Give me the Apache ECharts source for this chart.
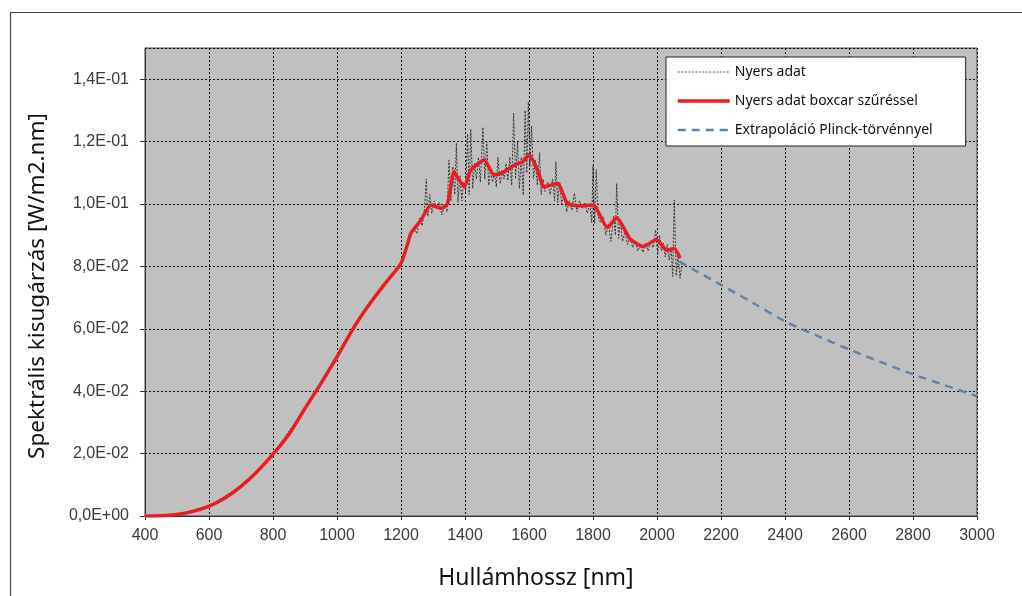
<!DOCTYPE html>
<html>
<head>
<meta charset="utf-8">
<script src="https://cdn.jsdelivr.net/npm/echarts@6/dist/echarts.min.js"></script>
<style>html,body{margin:0;padding:0;background:#fff;}#c{width:1022px;height:596px;}</style>
</head>
<body>
<div id="c"></div>
<script>
// Smoothed (boxcar) curve
const smoothX = [400,450,500,550,600,650,700,750,800,850,900,950,1000,1050,1100,1150,1200,1220,1231,1262,1294,1325,1345,1366,1380,1398,1418,1460,1491,1523,1554,1580,1600,1627,1647,1689,1720,1762,1800,1845,1874,1916,1957,1999,2030,2054,2072];
const smoothY = [0,0.0001,0.0005,0.0015,0.0032,0.0058,0.0095,0.0142,0.0198,0.0262,0.0345,0.0425,0.0510,0.0600,0.0677,0.0745,0.0810,0.0870,0.0906,0.0948,0.0997,0.0986,0.1000,0.1103,0.1080,0.1055,0.1109,0.1141,0.1093,0.1103,0.1125,0.1135,0.1157,0.1109,0.1055,0.1066,0.1002,0.0994,0.0997,0.0925,0.0956,0.0888,0.0864,0.0886,0.0852,0.0857,0.0826];

// Raw data (noisy part; below 1230 nm it lies under the smoothed curve)
const rawX = [400,500,600,700,800,900,1000,1100,1200,1220,1230,1240,1250,1258,1266,1274,1279,1284,1290,1296,1304,1312,1320,1328,1336,1344,1350,1356,1362,1368,1373,1378,1384,1390,1396,1402,1408,1413,1418,1424,1430,1436,1442,1448,1456,1462,1468,1474,1480,1486,1492,1498,1503,1510,1516,1522,1528,1534,1540,1546,1552,1558,1564,1570,1576,1582,1588,1593,1598,1603,1608,1614,1620,1626,1633,1638,1644,1650,1658,1666,1674,1680,1684,1690,1696,1702,1710,1718,1726,1734,1742,1750,1758,1766,1774,1782,1790,1796,1800,1805,1810,1816,1824,1832,1840,1848,1856,1864,1870,1874,1880,1886,1892,1900,1908,1916,1924,1932,1940,1948,1956,1964,1972,1980,1988,1996,2002,2008,2014,2020,2026,2032,2038,2044,2049,2054,2060,2066,2072,2078];
const rawY = [0,0.0005,0.0032,0.0095,0.0198,0.0345,0.0512,0.0677,0.0810,0.0870,0.0900,0.0925,0.0905,0.0955,0.0930,0.0990,0.1080,0.0960,0.1030,0.0970,0.1010,0.0985,0.1005,0.0965,0.1000,0.0975,0.1140,0.1010,0.1120,0.1030,0.1195,0.1005,0.1090,0.1010,0.1070,0.1040,0.1225,0.1030,0.1240,0.1050,0.1130,0.1080,0.1150,0.1070,0.1246,0.1080,0.1200,0.1060,0.1110,0.1070,0.1100,0.1055,0.1150,0.1065,0.1110,0.1080,0.1130,0.1075,0.1150,0.1060,0.1290,0.1080,0.1200,0.1050,0.1150,0.1029,0.1300,0.1100,0.1327,0.1120,0.1250,0.1080,0.1140,0.1060,0.1165,0.1030,0.1080,0.1040,0.1070,0.1030,0.1080,0.1010,0.1135,0.1005,0.1070,0.1000,0.1030,0.0975,0.1010,0.0980,0.1035,0.0975,0.1010,0.0985,0.1005,0.0970,0.1000,0.0940,0.1124,0.0938,0.1110,0.0960,0.0940,0.0960,0.0900,0.0935,0.0880,0.0960,0.0900,0.1066,0.0890,0.0950,0.0880,0.0910,0.0870,0.0895,0.0860,0.0880,0.0850,0.0870,0.0845,0.0875,0.0850,0.0880,0.0860,0.0917,0.0837,0.0900,0.0850,0.0875,0.0830,0.0870,0.0820,0.0860,0.0768,0.1013,0.0770,0.0840,0.0762,0.0810];

// Planck extrapolation
const extraX = [2070,2100,2200,2300,2400,2500,2600,2700,2800,2900,3000];
const extraY = [0.0816,0.0798,0.0741,0.0683,0.0624,0.0578,0.0534,0.0493,0.0454,0.0419,0.0384];

const seriesNames = ['Nyers adat','Nyers adat boxcar szűréssel','Extrapoláció Plinck-törvénnyel'];
const xTitle = 'Hullámhossz [nm]';
const yTitle = 'Spektrális kisugárzás [W/m2.nm]';

const pairs = (xs, ys) => xs.map((x, i) => [x, ys[i]]);

function fmtY(v) {
  if (Math.abs(v) < 1e-12) return '0,0E+00';
  const s = v.toExponential(1); // e.g. 1.4e-1
  const [m, e] = s.split('e');
  const sign = e[0] === '-' ? '-' : '+';
  const n = Math.abs(parseInt(e, 10));
  return m.replace('.', ',') + 'E' + sign + (n < 10 ? '0' + n : '' + n);
}

const chart = echarts.init(document.getElementById('c'), null, {renderer: 'canvas'});
chart.setOption({
  animation: false,
  backgroundColor: '#ffffff',
  grid: {
    left: 145, right: 45, top: 48, bottom: 80,
    show: true, backgroundColor: '#c0c0c0', borderColor: '#444', borderWidth: 1
  },
  xAxis: {
    type: 'value', min: 400, max: 3000, interval: 200,
    axisLine: {show: true, onZero: false, lineStyle: {color: '#333', width: 1}},
    axisTick: {show: true, length: 4, lineStyle: {color: '#333'}},
    axisLabel: {margin: 12, fontFamily: '"Liberation Sans", Arial, sans-serif', fontSize: 16, color: '#3a3a3a', formatter: v => String(v)},
    splitLine: {show: true, lineStyle: {color: '#111', width: 1, type: [2, 2]}}
  },
  yAxis: {
    type: 'value', min: 0, max: 0.15, interval: 0.02,
    axisLine: {show: true, lineStyle: {color: '#333', width: 1}},
    axisTick: {show: true, length: 5, lineStyle: {color: '#333'}},
    axisLabel: {margin: 16, fontFamily: '"Liberation Sans", Arial, sans-serif', fontSize: 16, color: '#3a3a3a', formatter: fmtY, showMaxLabel: false},
    splitLine: {show: true, lineStyle: {color: '#111', width: 1, type: [2, 2]}}
  },
  legend: {
    orient: 'vertical', left: 666, top: 57,
    backgroundColor: '#ffffff', borderColor: '#222', borderWidth: 1,
    padding: [8, 33, 9, 10],
    itemWidth: 52, itemHeight: 14, itemGap: 15,
    itemStyle: {opacity: 0},
    textStyle: {fontFamily: 'Noto Sans', fontSize: 14, color: '#111'},
    data: [
      {name: seriesNames[0], lineStyle: {color: '#555', width: 1, type: [2, 1.5]}},
      {name: seriesNames[1], lineStyle: {color: '#ea1c22', width: 3.5}},
      {name: seriesNames[2], lineStyle: {color: '#6382a8', width: 2.5, type: [8, 6]}}
    ]
  },
  series: [
    {
      name: seriesNames[0], type: 'line', data: pairs(rawX, rawY),
      showSymbol: false, symbol: 'none', z: 2,
      lineStyle: {color: '#333', width: 1, type: [2, 1.5]},
      itemStyle: {color: '#333'}
    },
    {
      name: seriesNames[1], type: 'line', data: pairs(smoothX, smoothY),
      showSymbol: false, symbol: 'none', z: 3, smooth: 0.2,
      lineStyle: {color: '#ea1c22', width: 3.5},
      itemStyle: {color: '#ea1c22'}
    },
    {
      name: seriesNames[2], type: 'line', data: pairs(extraX, extraY),
      showSymbol: false, symbol: 'none', z: 4, smooth: 0.3,
      lineStyle: {color: '#6382a8', width: 2.5, type: [8, 6]},
      itemStyle: {color: '#6382a8'}
    }
  ],
  graphic: [
    {type: 'rect', left: 8, top: 10, z: -10, silent: true,
     shape: {width: 1040, height: 620},
     style: {fill: 'none', stroke: '#444', lineWidth: 1.2}},
    {type: 'text', silent: true, z: 10,
     x: 536, y: 578,
     style: {text: xTitle, fontFamily: 'Noto Sans', fontSize: 23, fill: '#111', align: 'center', verticalAlign: 'middle'}},
    {type: 'text', silent: true, z: 10,
     x: 38, y: 286, rotation: Math.PI / 2,
     style: {text: yTitle, fontFamily: 'Noto Sans', fontSize: 22.5, fill: '#111', align: 'center', verticalAlign: 'middle'}}
  ]
});
</script>
</body>
</html>
